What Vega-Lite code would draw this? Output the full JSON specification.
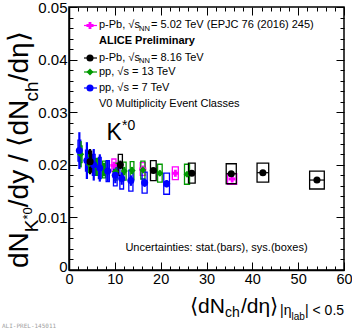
{
"$schema": "https://vega.github.io/schema/vega-lite/v6.json",
"width": 275, "height": 263,
"autosize": {"type": "none"},
"padding": {"left": 69, "top": 7, "right": 8, "bottom": 61},
"background": "white",
"config": {"view": {"stroke": "black", "strokeWidth": 1.5}, "font": "Liberation Sans",
  "axis": {"grid": false, "title": null, "tickColor": "black", "domainColor": "black", "labelColor": "black", "labelFont": "Liberation Sans", "labelFontSize": 15, "labelFlush": false, "labelOverlap": false, "tickWidth": 1, "domainWidth": 1.5}},
"datasets": {
"pts": [
{"s":"m","x":4.4,"y":0.0204,"sl":0.0201,"sh":0.0207,"yl":0.0191,"yh":0.0217,"xl":4.0,"xh":4.8},
{"s":"m","x":9.8,"y":0.0199,"sl":0.0196,"sh":0.0202,"yl":0.0187,"yh":0.0211,"xl":9.35,"xh":10.25},
{"s":"m","x":16.1,"y":0.0192,"sl":0.0189,"sh":0.0195,"yl":0.0180,"yh":0.0204,"xl":15.55,"xh":16.65},
{"s":"m","x":23.2,"y":0.0184,"sl":0.0181,"sh":0.0187,"yl":0.0172,"yh":0.0196,"xl":22.55,"xh":23.85},
{"s":"m","x":35.6,"y":0.0173,"sl":0.0171,"sh":0.0175,"yl":0.0163,"yh":0.0183,"xl":34.6,"xh":36.6},
{"s":"g","x":2.55,"y":0.0220,"sl":0.0195,"sh":0.0245,"yl":0.0204,"yh":0.0236,"xl":2.25,"xh":2.85},
{"s":"g","x":4.34,"y":0.0202,"sl":0.0184,"sh":0.0220,"yl":0.0186,"yh":0.0218,"xl":4.04,"xh":4.64},
{"s":"g","x":6.05,"y":0.0196,"sl":0.0180,"sh":0.0212,"yl":0.0180,"yh":0.0212,"xl":5.75,"xh":6.35},
{"s":"g","x":7.64,"y":0.0191,"sl":0.0178,"sh":0.0204,"yl":0.0175,"yh":0.0207,"xl":7.29,"xh":7.99},
{"s":"g","x":10.11,"y":0.0187,"sl":0.0178,"sh":0.0196,"yl":0.0171,"yh":0.0203,"xl":9.76,"xh":10.46},
{"s":"g","x":12.06,"y":0.0188,"sl":0.0180,"sh":0.0196,"yl":0.0171,"yh":0.0205,"xl":11.66,"xh":12.46},
{"s":"g","x":13.76,"y":0.0189,"sl":0.0182,"sh":0.0196,"yl":0.0172,"yh":0.0206,"xl":13.36,"xh":14.16},
{"s":"g","x":16.12,"y":0.0190,"sl":0.0184,"sh":0.0196,"yl":0.0173,"yh":0.0207,"xl":15.67,"xh":16.57},
{"s":"g","x":19.83,"y":0.0184,"sl":0.0179,"sh":0.0189,"yl":0.0167,"yh":0.0201,"xl":19.33,"xh":20.33},
{"s":"g","x":25.75,"y":0.0182,"sl":0.0178,"sh":0.0186,"yl":0.0163,"yh":0.0201,"xl":25.2,"xh":26.3},
{"s":"b","x":2.26,"y":0.0227,"sl":0.0192,"sh":0.0262,"yl":0.0207,"yh":0.0247,"xl":1.96,"xh":2.56},
{"s":"b","x":3.90,"y":0.0208,"sl":0.0173,"sh":0.0243,"yl":0.0188,"yh":0.0228,"xl":3.6,"xh":4.2},
{"s":"b","x":5.40,"y":0.0200,"sl":0.0170,"sh":0.0230,"yl":0.0180,"yh":0.0220,"xl":5.1,"xh":5.7},
{"s":"b","x":6.72,"y":0.0194,"sl":0.0168,"sh":0.0220,"yl":0.0174,"yh":0.0214,"xl":6.42,"xh":7.02},
{"s":"b","x":8.45,"y":0.0188,"sl":0.0168,"sh":0.0208,"yl":0.0168,"yh":0.0208,"xl":8.1,"xh":8.8},
{"s":"b","x":10.1,"y":0.0180,"sl":0.0165,"sh":0.0195,"yl":0.0160,"yh":0.0200,"xl":9.7,"xh":10.5},
{"s":"b","x":11.5,"y":0.0174,"sl":0.0162,"sh":0.0186,"yl":0.0154,"yh":0.0194,"xl":11.1,"xh":11.9},
{"s":"b","x":13.5,"y":0.0170,"sl":0.0160,"sh":0.0180,"yl":0.0150,"yh":0.0190,"xl":13.05,"xh":13.95},
{"s":"b","x":16.5,"y":0.0166,"sl":0.0158,"sh":0.0174,"yl":0.0146,"yh":0.0186,"xl":15.95,"xh":17.05},
{"s":"b","x":21.3,"y":0.0164,"sl":0.0157,"sh":0.0171,"yl":0.0144,"yh":0.0184,"xl":20.68,"xh":21.92},
{"s":"k","x":4.6,"y":0.0206,"sl":0.0182,"sh":0.0230,"yl":0.0186,"yh":0.0226,"xl":4.25,"xh":4.95},
{"s":"k","x":11.2,"y":0.0200,"sl":0.0192,"sh":0.0208,"yl":0.0180,"yh":0.0220,"xl":10.75,"xh":11.65},
{"s":"k","x":18.4,"y":0.0189,"sl":0.0185,"sh":0.0193,"yl":0.0170,"yh":0.0208,"xl":17.78,"xh":19.02},
{"s":"k","x":26.8,"y":0.0184,"sl":0.0181,"sh":0.0187,"yl":0.0165,"yh":0.0203,"xl":26.07,"xh":27.53},
{"s":"k","x":35.4,"y":0.0183,"sl":0.0180,"sh":0.0186,"yl":0.0164,"yh":0.0202,"xl":34.3,"xh":36.5},
{"s":"k","x":42.3,"y":0.0185,"sl":0.0182,"sh":0.0188,"yl":0.0167,"yh":0.0203,"xl":41.03,"xh":43.57},
{"s":"k","x":54.1,"y":0.0171,"sl":0.0168,"sh":0.0174,"yl":0.0154,"yh":0.0188,"xl":52.5,"xh":55.7}
],
"leg": [
{"s":"m","x":4.582,"y":0.046483,"x1":3.273,"x2":6.109},
{"s":"k","x":4.582,"y":0.040304,"x1":3.273,"x2":6.109},
{"s":"g","x":4.582,"y":0.037643,"x1":3.273,"x2":6.109},
{"s":"b","x":4.582,"y":0.034601,"x1":3.273,"x2":6.109}
],
"txt": [
{"g":"leg","t":"p-Pb, √s","x":6.545,"y":0.046483},
{"g":"leg","t":"= 5.02 TeV (EPJC 76 (2016) 245)","x":17.891,"y":0.046483},
{"g":"leg","t":"p-Pb, √s","x":6.545,"y":0.040304},
{"g":"leg","t":"= 8.16 TeV","x":17.891,"y":0.040304},
{"g":"leg","t":"pp, √s = 13 TeV","x":6.545,"y":0.037643},
{"g":"leg","t":"pp, √s = 7 TeV","x":6.545,"y":0.034601},
{"g":"leg","t":"V0 Multiplicity Event Classes","x":6.545,"y":0.031559},
{"g":"bold","t":"ALICE Preliminary","x":6.545,"y":0.043536},
{"g":"sub","t":"NN","x":15.273,"y":0.045817},
{"g":"sub","t":"NN","x":15.273,"y":0.039639},
{"g":"unc","t":"Uncertainties: stat.(bars), sys.(boxes)","x":32.182,"y":0.00424},
{"g":"K","t":"K","x":8.182,"y":0.024715},
{"g":"Ksup","t":"*0","x":11.564,"y":0.026616},
{"g":"xt","t":"⟨dN","x":26.4,"y":-0.008175},
{"g":"xts","t":"ch","x":34.036,"y":-0.008935},
{"g":"xt","t":"/dη⟩","x":37.527,"y":-0.008175},
{"g":"xts","t":"|η","x":46.036,"y":-0.008555},
{"g":"xtss","t":"lab","x":48.545,"y":-0.009506},
{"g":"xts","t":"| < 0.5","x":51.491,"y":-0.008555},
{"g":"wm","t":"ALI-PREL-145011","x":-14.618,"y":-0.010646},
{"g":"yt","t":"dN","x":-8.945,"y":0.00038},
{"g":"yts","t":"K","x":-6.764,"y":0.007186},
{"g":"ytss","t":"*0","x":-8.073,"y":0.009601},
{"g":"yt","t":"/dy / ⟨dN","x":-8.945,"y":0.011939},
{"g":"yts","t":"ch","x":-6.764,"y":0.032034},
{"g":"yt","t":"/dη⟩","x":-8.945,"y":0.035856}
]
},
"resolve": {"axis": {"x": "independent", "y": "independent"}},
"layer": [
{"data": {"name": "pts"},
 "mark": {"type": "rect", "filled": false, "strokeWidth": 1.3},
 "encoding": {
  "x": {"field": "xl", "type": "quantitative", "scale": {"domain": [0, 60], "nice": false, "zero": false},
        "axis": {"orient": "bottom", "values": [0,10,20,30,40,50,60], "tickSize": -8, "labelPadding": 10, "labelFontSize": 14.5}},
  "x2": {"field": "xh"},
  "y": {"field": "yl", "type": "quantitative", "scale": {"domain": [0, 0.05], "nice": false, "zero": false},
        "axis": {"orient": "left", "values": [0,0.01,0.02,0.03,0.04,0.05], "format": "~g", "tickSize": -8, "labelPadding": 10,
                 "labelOffset": {"condition": {"test": "datum.value === 0", "value": -4}, "value": 0}}},
  "y2": {"field": "yh"},
  "color": {"field": "s", "type": "nominal", "scale": {"domain": ["m","k","g","b"], "range": ["#ff00ff","#000000","#009900","#0000ff"]}, "legend": null}
 }},
{"data": {"name": "pts"},
 "mark": {"type": "rule", "strokeWidth": 2.2},
 "encoding": {
  "x": {"field": "x", "type": "quantitative",
        "axis": {"orient": "bottom", "values": [2,4,6,8,12,14,16,18,22,24,26,28,32,34,36,38,42,44,46,48,52,54,56,58], "tickSize": -4, "labels": false, "domain": false}},
  "y": {"field": "sl", "type": "quantitative",
        "axis": {"orient": "left", "values": [0.002,0.004,0.006,0.008,0.012,0.014,0.016,0.018,0.022,0.024,0.026,0.028,0.032,0.034,0.036,0.038,0.042,0.044,0.046,0.048], "tickSize": -4, "labels": false, "domain": false}},
  "y2": {"field": "sh"},
  "color": {"field": "s", "type": "nominal", "legend": null}
 }},
{"data": {"name": "pts"},
 "transform": [{"filter": "datum.s === 'k'"}],
 "mark": {"type": "rule", "strokeWidth": 1.2},
 "encoding": {
  "x": {"field": "xl", "type": "quantitative",
        "axis": {"orient": "top", "values": [0,10,20,30,40,50,60], "tickSize": -8, "labels": false, "domain": false}},
  "x2": {"field": "xh"},
  "y": {"field": "y", "type": "quantitative",
        "axis": {"orient": "right", "values": [0,0.01,0.02,0.03,0.04,0.05], "tickSize": -8, "labels": false, "domain": false}},
  "color": {"value": "black"}
 }},
{"data": {"name": "pts"},
 "mark": {"type": "point", "filled": true, "opacity": 1, "size": 50},
 "encoding": {
  "x": {"field": "x", "type": "quantitative",
        "axis": {"orient": "top", "values": [2,4,6,8,12,14,16,18,22,24,26,28,32,34,36,38,42,44,46,48,52,54,56,58], "tickSize": -4, "labels": false, "domain": false}},
  "y": {"field": "y", "type": "quantitative",
        "axis": {"orient": "right", "values": [0.002,0.004,0.006,0.008,0.012,0.014,0.016,0.018,0.022,0.024,0.026,0.028,0.032,0.034,0.036,0.038,0.042,0.044,0.046,0.048], "tickSize": -4, "labels": false, "domain": false}},
  "color": {"field": "s", "type": "nominal", "legend": null},
  "shape": {"field": "s", "type": "nominal", "scale": {"domain": ["m","k","g","b"], "range": ["cross","circle","diamond","circle"]}, "legend": null}
 }},
{"data": {"name": "leg"},
 "mark": {"type": "rule", "strokeWidth": 1.2},
 "encoding": {
  "x": {"field": "x1", "type": "quantitative", "axis": null},
  "x2": {"field": "x2"},
  "y": {"field": "y", "type": "quantitative", "axis": null},
  "color": {"field": "s", "type": "nominal", "legend": null}
 }},
{"data": {"name": "leg"},
 "mark": {"type": "point", "filled": true, "opacity": 1, "size": 50},
 "encoding": {
  "x": {"field": "x", "type": "quantitative", "axis": null},
  "y": {"field": "y", "type": "quantitative", "axis": null},
  "color": {"field": "s", "type": "nominal", "legend": null},
  "shape": {"field": "s", "type": "nominal", "legend": null}
 }},
{"data": {"name": "txt"}, "transform": [{"filter": "datum.g === 'leg'"}],
 "mark": {"type": "text", "fontSize": 11, "align": "left", "baseline": "middle", "color": "black"},
 "encoding": {"x": {"field": "x", "type": "quantitative", "axis": null}, "y": {"field": "y", "type": "quantitative", "axis": null}, "text": {"field": "t"}}},
{"data": {"name": "txt"}, "transform": [{"filter": "datum.g === 'bold'"}],
 "mark": {"type": "text", "fontSize": 11, "fontWeight": "bold", "align": "left", "baseline": "middle", "color": "black"},
 "encoding": {"x": {"field": "x", "type": "quantitative", "axis": null}, "y": {"field": "y", "type": "quantitative", "axis": null}, "text": {"field": "t"}}},
{"data": {"name": "txt"}, "transform": [{"filter": "datum.g === 'sub'"}],
 "mark": {"type": "text", "fontSize": 7.5, "align": "left", "baseline": "middle", "color": "black"},
 "encoding": {"x": {"field": "x", "type": "quantitative", "axis": null}, "y": {"field": "y", "type": "quantitative", "axis": null}, "text": {"field": "t"}}},
{"data": {"name": "txt"}, "transform": [{"filter": "datum.g === 'unc'"}],
 "mark": {"type": "text", "fontSize": 11, "align": "center", "baseline": "middle", "color": "black"},
 "encoding": {"x": {"field": "x", "type": "quantitative", "axis": null}, "y": {"field": "y", "type": "quantitative", "axis": null}, "text": {"field": "t"}}},
{"data": {"name": "txt"}, "transform": [{"filter": "datum.g === 'K'"}],
 "mark": {"type": "text", "fontSize": 23, "align": "left", "baseline": "alphabetic", "color": "black"},
 "encoding": {"x": {"field": "x", "type": "quantitative", "axis": null}, "y": {"field": "y", "type": "quantitative", "axis": null}, "text": {"field": "t"}}},
{"data": {"name": "txt"}, "transform": [{"filter": "datum.g === 'Ksup'"}],
 "mark": {"type": "text", "fontSize": 14, "align": "left", "baseline": "alphabetic", "color": "black"},
 "encoding": {"x": {"field": "x", "type": "quantitative", "axis": null}, "y": {"field": "y", "type": "quantitative", "axis": null}, "text": {"field": "t"}}},
{"data": {"name": "txt"}, "transform": [{"filter": "datum.g === 'xt'"}],
 "mark": {"type": "text", "fontSize": 21, "align": "left", "baseline": "alphabetic", "color": "black"},
 "encoding": {"x": {"field": "x", "type": "quantitative", "axis": null}, "y": {"field": "y", "type": "quantitative", "axis": null}, "text": {"field": "t"}}},
{"data": {"name": "txt"}, "transform": [{"filter": "datum.g === 'xts'"}],
 "mark": {"type": "text", "fontSize": 14, "align": "left", "baseline": "alphabetic", "color": "black"},
 "encoding": {"x": {"field": "x", "type": "quantitative", "axis": null}, "y": {"field": "y", "type": "quantitative", "axis": null}, "text": {"field": "t"}}},
{"data": {"name": "txt"}, "transform": [{"filter": "datum.g === 'xtss'"}],
 "mark": {"type": "text", "fontSize": 10, "align": "left", "baseline": "alphabetic", "color": "black"},
 "encoding": {"x": {"field": "x", "type": "quantitative", "axis": null}, "y": {"field": "y", "type": "quantitative", "axis": null}, "text": {"field": "t"}}},
{"data": {"name": "txt"}, "transform": [{"filter": "datum.g === 'wm'"}],
 "mark": {"type": "text", "fontSize": 6, "font": "DejaVu Sans Mono", "align": "left", "baseline": "middle", "color": "#a0a0a0"},
 "encoding": {"x": {"field": "x", "type": "quantitative", "axis": null}, "y": {"field": "y", "type": "quantitative", "axis": null}, "text": {"field": "t"}}},
{"data": {"name": "txt"}, "transform": [{"filter": "datum.g === 'yt'"}],
 "mark": {"type": "text", "fontSize": 28, "angle": 270, "align": "left", "baseline": "alphabetic", "color": "black"},
 "encoding": {"x": {"field": "x", "type": "quantitative", "axis": null}, "y": {"field": "y", "type": "quantitative", "axis": null}, "text": {"field": "t"}}},
{"data": {"name": "txt"}, "transform": [{"filter": "datum.g === 'yts'"}],
 "mark": {"type": "text", "fontSize": 19, "angle": 270, "align": "left", "baseline": "alphabetic", "color": "black"},
 "encoding": {"x": {"field": "x", "type": "quantitative", "axis": null}, "y": {"field": "y", "type": "quantitative", "axis": null}, "text": {"field": "t"}}},
{"data": {"name": "txt"}, "transform": [{"filter": "datum.g === 'ytss'"}],
 "mark": {"type": "text", "fontSize": 13, "angle": 270, "align": "left", "baseline": "alphabetic", "color": "black"},
 "encoding": {"x": {"field": "x", "type": "quantitative", "axis": null}, "y": {"field": "y", "type": "quantitative", "axis": null}, "text": {"field": "t"}}}
]
}
